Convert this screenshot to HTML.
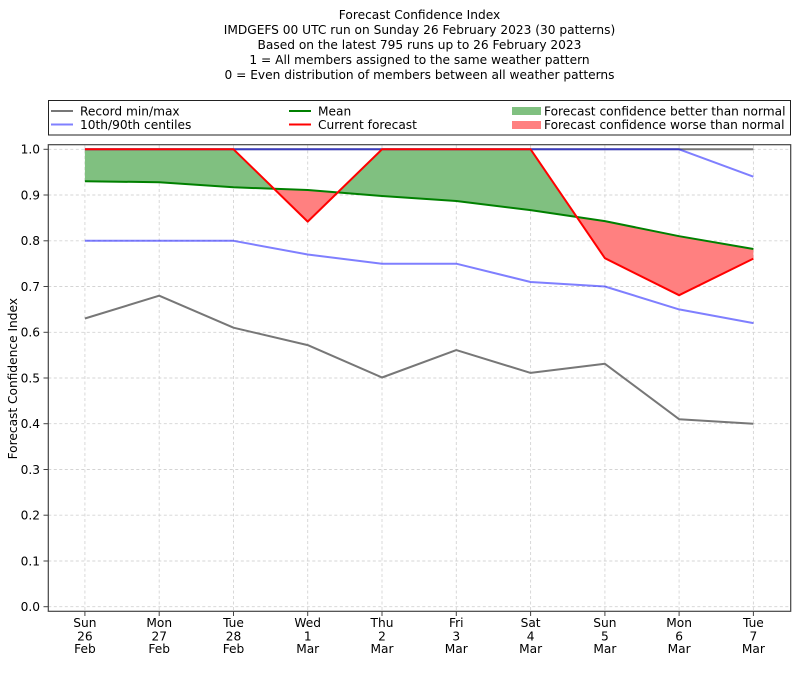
<!DOCTYPE html>
<html><head><meta charset="utf-8"><style>
html,body{margin:0;padding:0;background:#fff;}
svg{display:block;}
text{font-family:"DejaVu Sans","Liberation Sans",sans-serif;font-size:12.2px;fill:#000;}
</style></head><body>
<svg width="800" height="676" viewBox="0 0 800 676" xmlns="http://www.w3.org/2000/svg">
<rect width="800" height="676" fill="#fff"/>
<!-- Title -->
<g text-anchor="middle">
<text x="419.5" y="19">Forecast Confidence Index</text>
<text x="419.5" y="34">IMDGEFS 00 UTC run on Sunday 26 February 2023 (30 patterns)</text>
<text x="419.5" y="49">Based on the latest 795 runs up to 26 February 2023</text>
<text x="419.5" y="64">1 = All members assigned to the same weather pattern</text>
<text x="419.5" y="79">0 = Even distribution of members between all weather patterns</text>
</g>
<!-- Legend -->
<rect x="48.5" y="100.5" width="742" height="34.5" fill="#fff" stroke="#222" stroke-width="1"/>
<line x1="51" y1="111" x2="73" y2="111" stroke="#777" stroke-width="2"/>
<text x="80" y="115.5">Record min/max</text>
<line x1="51" y1="124.5" x2="73" y2="124.5" stroke="#8080ff" stroke-width="2"/>
<text x="80" y="129">10th/90th centiles</text>
<line x1="289" y1="111" x2="311" y2="111" stroke="#008000" stroke-width="2"/>
<text x="318" y="115.5">Mean</text>
<line x1="289" y1="124.5" x2="311" y2="124.5" stroke="#ff0000" stroke-width="2"/>
<text x="318" y="129">Current forecast</text>
<rect x="512" y="107" width="29" height="8" fill="#80c080"/>
<text x="544" y="115.5">Forecast confidence better than normal</text>
<rect x="512" y="121" width="29" height="8" fill="#ff8080"/>
<text x="544" y="129">Forecast confidence worse than normal</text>

<!-- Grid -->
<g stroke="#d4d4d4" stroke-width="0.9" stroke-dasharray="3,2.5">
<line x1="48.3" x2="790.7" y1="149.3" y2="149.3"/>
<line x1="48.3" x2="790.7" y1="195.0" y2="195.0"/>
<line x1="48.3" x2="790.7" y1="240.8" y2="240.8"/>
<line x1="48.3" x2="790.7" y1="286.5" y2="286.5"/>
<line x1="48.3" x2="790.7" y1="332.3" y2="332.3"/>
<line x1="48.3" x2="790.7" y1="378.0" y2="378.0"/>
<line x1="48.3" x2="790.7" y1="423.7" y2="423.7"/>
<line x1="48.3" x2="790.7" y1="469.5" y2="469.5"/>
<line x1="48.3" x2="790.7" y1="515.2" y2="515.2"/>
<line x1="48.3" x2="790.7" y1="561.0" y2="561.0"/>
<line x1="48.3" x2="790.7" y1="606.7" y2="606.7"/>
<line y1="145" y2="611" x1="84.9" x2="84.9"/>
<line y1="145" y2="611" x1="159.2" x2="159.2"/>
<line y1="145" y2="611" x1="233.5" x2="233.5"/>
<line y1="145" y2="611" x1="307.7" x2="307.7"/>
<line y1="145" y2="611" x1="382.0" x2="382.0"/>
<line y1="145" y2="611" x1="456.3" x2="456.3"/>
<line y1="145" y2="611" x1="530.6" x2="530.6"/>
<line y1="145" y2="611" x1="604.9" x2="604.9"/>
<line y1="145" y2="611" x1="679.1" x2="679.1"/>
<line y1="145" y2="611" x1="753.4" x2="753.4"/>
</g>

<!-- Fills -->
<polygon fill="#80c080" points="84.9,149.3 159.2,149.3 233.5,149.3 274.1,188.8 233.5,187.3 159.2,182.2 84.9,181.3"/>
<polygon fill="#ff8080" points="274.1,188.8 307.7,221.6 337.7,192.4 307.7,190.0"/>
<polygon fill="#80c080" points="337.7,192.4 382,149.3 456.3,149.3 530.6,149.3 576.7,216.9 530.6,210.1 456.3,201.0 382,196.0"/>
<polygon fill="#ff8080" points="576.7,216.9 604.9,258.2 679.1,295.2 753.4,258.6 753.4,249.0 679.1,236.2 604.9,221.1"/>

<g fill="none" stroke-width="2" stroke-linejoin="round">
<polyline stroke="#777" points="84.9,149.3 753.4,149.3"/>
<polyline stroke="#777" points="84.9,318.5 159.2,295.7 233.5,327.7 307.7,345.1 382.0,377.5 456.3,350.1 530.6,372.9 604.9,363.8 679.1,419.2 753.4,423.7"/>
<polyline stroke="#0000ff" stroke-opacity="0.5" points="84.9,149.3 159.2,149.3 233.5,149.3 307.7,149.3 382.0,149.3 456.3,149.3 530.6,149.3 604.9,149.3 679.1,149.3 753.4,176.7"/>
<polyline stroke="#0000ff" stroke-opacity="0.5" points="84.9,240.8 159.2,240.8 233.5,240.8 307.7,254.5 382.0,263.7 456.3,263.7 530.6,282.0 604.9,286.5 679.1,309.4 753.4,323.1"/>
<polyline stroke="#008000" points="84.9,181.3 159.2,182.2 233.5,187.3 307.7,190.0 382.0,196.0 456.3,201.0 530.6,210.1 604.9,221.1 679.1,236.2 753.4,249.0"/>
<polyline stroke="#ff0000" points="84.9,149.3 159.2,149.3 233.5,149.3 307.7,221.6 382.0,149.3 456.3,149.3 530.6,149.3 604.9,258.2 679.1,295.2 753.4,258.6"/>
</g>

<!-- Frame -->
<rect x="48.3" y="144.7" width="742.4" height="466.6" fill="none" stroke="#444" stroke-width="1.2"/>

<!-- Ticks -->
<g stroke="#444" stroke-width="1">
<line x1="43.5" x2="48.3" y1="149.3" y2="149.3"/>
<line x1="43.5" x2="48.3" y1="195.0" y2="195.0"/>
<line x1="43.5" x2="48.3" y1="240.8" y2="240.8"/>
<line x1="43.5" x2="48.3" y1="286.5" y2="286.5"/>
<line x1="43.5" x2="48.3" y1="332.3" y2="332.3"/>
<line x1="43.5" x2="48.3" y1="378.0" y2="378.0"/>
<line x1="43.5" x2="48.3" y1="423.7" y2="423.7"/>
<line x1="43.5" x2="48.3" y1="469.5" y2="469.5"/>
<line x1="43.5" x2="48.3" y1="515.2" y2="515.2"/>
<line x1="43.5" x2="48.3" y1="561.0" y2="561.0"/>
<line x1="43.5" x2="48.3" y1="606.7" y2="606.7"/>
<line y1="611.3" y2="616" x1="84.9" x2="84.9"/>
<line y1="611.3" y2="616" x1="159.2" x2="159.2"/>
<line y1="611.3" y2="616" x1="233.5" x2="233.5"/>
<line y1="611.3" y2="616" x1="307.7" x2="307.7"/>
<line y1="611.3" y2="616" x1="382.0" x2="382.0"/>
<line y1="611.3" y2="616" x1="456.3" x2="456.3"/>
<line y1="611.3" y2="616" x1="530.6" x2="530.6"/>
<line y1="611.3" y2="616" x1="604.9" x2="604.9"/>
<line y1="611.3" y2="616" x1="679.1" x2="679.1"/>
<line y1="611.3" y2="616" x1="753.4" x2="753.4"/>
</g>
<g text-anchor="end">
<text x="40" y="153.6">1.0</text>
<text x="40" y="199.3">0.9</text>
<text x="40" y="245.1">0.8</text>
<text x="40" y="290.8">0.7</text>
<text x="40" y="336.6">0.6</text>
<text x="40" y="382.3">0.5</text>
<text x="40" y="428.0">0.4</text>
<text x="40" y="473.8">0.3</text>
<text x="40" y="519.5">0.2</text>
<text x="40" y="565.3">0.1</text>
<text x="40" y="611.0">0.0</text>
</g>
<text x="17" y="378.7" text-anchor="middle" transform="rotate(-90 17 378.7)">Forecast Confidence Index</text>

<!-- X tick labels -->
<g text-anchor="middle">
<text x="84.9" y="627">Sun</text><text x="84.9" y="640.5">26</text><text x="84.9" y="653">Feb</text>
<text x="159.2" y="627">Mon</text><text x="159.2" y="640.5">27</text><text x="159.2" y="653">Feb</text>
<text x="233.5" y="627">Tue</text><text x="233.5" y="640.5">28</text><text x="233.5" y="653">Feb</text>
<text x="307.7" y="627">Wed</text><text x="307.7" y="640.5">1</text><text x="307.7" y="653">Mar</text>
<text x="382.0" y="627">Thu</text><text x="382.0" y="640.5">2</text><text x="382.0" y="653">Mar</text>
<text x="456.3" y="627">Fri</text><text x="456.3" y="640.5">3</text><text x="456.3" y="653">Mar</text>
<text x="530.6" y="627">Sat</text><text x="530.6" y="640.5">4</text><text x="530.6" y="653">Mar</text>
<text x="604.9" y="627">Sun</text><text x="604.9" y="640.5">5</text><text x="604.9" y="653">Mar</text>
<text x="679.1" y="627">Mon</text><text x="679.1" y="640.5">6</text><text x="679.1" y="653">Mar</text>
<text x="753.4" y="627">Tue</text><text x="753.4" y="640.5">7</text><text x="753.4" y="653">Mar</text>
</g>
</svg>
</body></html>
